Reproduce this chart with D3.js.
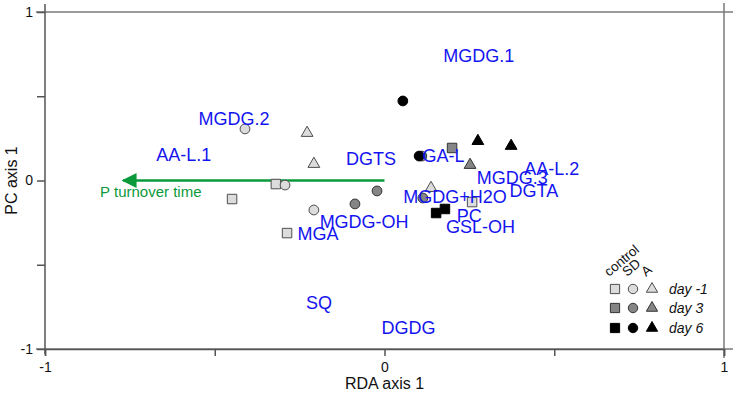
<!DOCTYPE html>
<html>
<head>
<meta charset="utf-8">
<script src="https://cdn.jsdelivr.net/npm/d3@7"></script>
<style>
  body { margin: 0; background: #fff; }
  svg { display: block; font-family: Arial, "Liberation Sans", sans-serif; }
</style>
</head>
<body>
<div class="chart"></div>
<script>
// sample scores (squares = control, circles = SD, triangles = A)
const sampleX = [-0.320, -0.449, -0.287, 0.258, -0.411, -0.293, -0.208, -0.228, -0.208, 0.137,
  0.199, -0.087, -0.022, 0.113, 0.110, 0.252,
  0.152, 0.178, 0.054, 0.102, 0.275, 0.373];
const sampleY = [-0.021, -0.110, -0.312, -0.128, 0.306, -0.027, -0.175, 0.282, 0.098, -0.045,
  0.193, -0.139, -0.062, -0.104, 0.145, 0.092,
  -0.193, -0.169, 0.472, 0.145, 0.234, 0.205];
const sampleTreat = [0, 0, 0, 0, 1, 1, 1, 2, 2, 2,
  0, 1, 1, 1, 1, 2,
  0, 0, 1, 1, 2, 2];
const sampleDay = [0, 0, 0, 0, 0, 0, 0, 0, 0, 0,
  1, 1, 1, 1, 1, 1,
  2, 2, 2, 2, 2, 2];

// lipid loadings
const lipidNames = ['MGDG.1', 'MGDG.2', 'AA-L.1', 'DGTS', 'GA-L', 'AA-L.2', 'MGDG.3', 'DGTA',
  'MGDG+H2O', 'PC', 'GSL-OH', 'MGDG-OH', 'MGA', 'SQ', 'DGDG'];
const lipidX = [0.278, -0.443, -0.591, -0.040, 0.174, 0.493, 0.376, 0.440,
  0.208, 0.250, 0.283, -0.060, -0.196, -0.193, 0.071];
const lipidY = [0.742, 0.368, 0.154, 0.131, 0.148, 0.071, 0.018, -0.059,
  -0.095, -0.208, -0.273, -0.243, -0.315, -0.724, -0.872];

// environmental vector
const envName = 'P turnover time';
const envX = -0.77, envY = 0;

const treatments = ['control', 'SD', 'A'];
const days = ['day -1', 'day 3', 'day 6'];
const dayFill = ['#dcdcdc', '#858585', '#000000'];
const dayStroke = ['#4d4d4d', '#333333', '#000000'];
const ticks = [-1, -0.5, 0, 0.5, 1];
const tickLabels = {'-1': '-1', '0': '0', '1': '1'};

const width = 737, height = 396;
const x = d3.scaleLinear().domain([-1, 1]).range([45, 724]);
const y = d3.scaleLinear().domain([-1, 1]).range([349, 12]);

const svg = d3.select('.chart').append('svg')
  .attr('width', width)
  .attr('height', height);

// frame
const frame = svg.append('g').attr('stroke', '#7a7a7a').attr('stroke-width', 1.5);
frame.append('line').attr('x1', x(-1) - 9).attr('x2', x(1) + 9).attr('y1', y(1)).attr('y2', y(1));
frame.append('line').attr('x1', x(-1) - 9).attr('x2', x(1) + 9).attr('y1', y(-1)).attr('y2', y(-1));
frame.append('line').attr('x1', x(1)).attr('x2', x(1)).attr('y1', y(1) - 9).attr('y2', y(-1) + 9);

const yAxis = d3.axisLeft(y).tickValues(ticks).tickSize(8).tickPadding(4)
  .tickFormat(d => tickLabels[d] || '');
const xAxis = d3.axisBottom(x).tickValues(ticks).tickSize(7).tickPadding(6)
  .tickFormat(d => tickLabels[d] || '');

const gy = svg.append('g').attr('transform', `translate(${x(-1)},0)`).call(yAxis);
const gx = svg.append('g').attr('transform', `translate(0,${y(-1)})`).call(xAxis);
[gx, gy].forEach(g => {
  g.select('.domain').attr('stroke', '#555').attr('stroke-width', 1.5);
  g.selectAll('.tick line').attr('stroke', '#555').attr('stroke-width', 1.5);
  g.selectAll('.tick text').attr('font-size', 14).attr('fill', '#111')
    .attr('font-family', 'Arial, "Liberation Sans", sans-serif');
});
gy.select('.domain').attr('d', `M0,${y(1) - 8}V${y(-1) + 5}`);

svg.append('text')
  .attr('x', x(0)).attr('y', 389)
  .attr('text-anchor', 'middle').attr('font-size', 16).attr('fill', '#111')
  .text('RDA axis 1');

svg.append('text')
  .attr('transform', `translate(17, ${y(0)}) rotate(-90)`)
  .attr('text-anchor', 'middle').attr('font-size', 16).attr('fill', '#111')
  .text('PC axis 1');

// arrow
const green = '#0a9a3c';
svg.append('defs').append('marker')
  .attr('id', 'head')
  .attr('viewBox', '0 0 10 10')
  .attr('refX', 9).attr('refY', 5)
  .attr('markerWidth', 9).attr('markerHeight', 6)
  .attr('markerUnits', 'strokeWidth')
  .attr('orient', 'auto')
  .append('path').attr('d', 'M0,0L10,5L0,10Z').attr('fill', green);

svg.append('line')
  .attr('x1', x(0)).attr('y1', y(0))
  .attr('x2', x(envX)).attr('y2', y(envY))
  .attr('stroke', green).attr('stroke-width', 2.5)
  .attr('marker-end', 'url(#head)');

svg.append('text')
  .attr('x', x(envX) - 23).attr('y', y(envY) + 16)
  .attr('font-size', 15).attr('fill', green)
  .text(envName);

// samples
const shapes = [d3.symbolSquare, d3.symbolCircle, d3.symbolTriangle];
const sizes = [90, 75, 60];
const samples = sampleX.map((d, i) => ({x: d, y: sampleY[i], t: sampleTreat[i], day: sampleDay[i]}));

svg.append('g').selectAll('path')
  .data(samples)
  .enter().append('path')
    .attr('transform', d => `translate(${x(d.x)},${y(d.y)})`)
    .attr('d', d => d3.symbol().type(shapes[d.t]).size(sizes[d.t])())
    .attr('fill', d => dayFill[d.day])
    .attr('stroke', d => dayStroke[d.day])
    .attr('stroke-width', 1);

// lipid labels
svg.append('g').selectAll('text')
  .data(lipidNames)
  .enter().append('text')
    .attr('x', (d, i) => x(lipidX[i]))
    .attr('y', (d, i) => y(lipidY[i]) + 6.5)
    .attr('text-anchor', 'middle')
    .attr('font-size', 18)
    .attr('fill', '#1414f0')
    .text(d => d);

// legend
const legend = svg.append('g');
const colX = [615, 633, 652];
const rowY = [289, 308, 328];

treatments.forEach((t, j) => {
  legend.append('text')
    .attr('transform', `translate(${colX[j] - 6},${277}) rotate(-40)`)
    .attr('font-size', 13.5).attr('fill', '#111')
    .text(t);
});

days.forEach((dname, i) => {
  shapes.forEach((s, j) => {
    legend.append('path')
      .attr('transform', `translate(${colX[j]},${rowY[i]})`)
      .attr('d', d3.symbol().type(s).size(sizes[j] - 5)())
      .attr('fill', dayFill[i])
      .attr('stroke', dayStroke[i])
      .attr('stroke-width', 1);
  });
  legend.append('text')
    .attr('x', 669).attr('y', rowY[i] + 5)
    .attr('font-size', 14).attr('font-style', 'italic').attr('fill', '#111')
    .text(dname);
});
</script>
</body>
</html>
